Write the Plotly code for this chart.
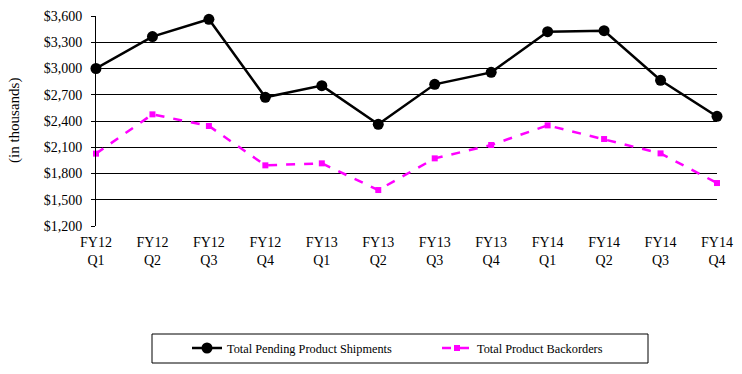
import plotly.graph_objects as go

quarters = ["FY12<br>Q1", "FY12<br>Q2", "FY12<br>Q3", "FY12<br>Q4",
            "FY13<br>Q1", "FY13<br>Q2", "FY13<br>Q3", "FY13<br>Q4",
            "FY14<br>Q1", "FY14<br>Q2", "FY14<br>Q3", "FY14<br>Q4"]
pending_shipments = [3000, 3365, 3562, 2671, 2804, 2362, 2819, 2956, 3421, 3432, 2865, 2453]
backorders = [2027, 2476, 2343, 1893, 1916, 1611, 1973, 2126, 2350, 2194, 2030, 1691]
y_ticks = [1200, 1500, 1800, 2100, 2400, 2700, 3000, 3300, 3600]
y_tick_labels = ["$1,200", "$1,500", "$1,800", "$2,100", "$2,400",
                 "$2,700", "$3,000", "$3,300", "$3,600"]

FONT = "Liberation Serif, Times New Roman, serif"
xs = list(range(len(quarters)))
PW, PH, L, T = 621, 210, 96, 16

fig = go.Figure()
fig.add_trace(go.Scatter(
    x=xs, y=pending_shipments, name="Total Pending Product Shipments",
    mode="lines+markers", line=dict(color="black", width=2.5),
    marker=dict(symbol="circle", size=11, color="black"), cliponaxis=False))
fig.add_trace(go.Scatter(
    x=xs, y=backorders, name="Total Product Backorders",
    mode="lines+markers", line=dict(color="#FF00FF", width=2.5, dash="dash"),
    marker=dict(symbol="square", size=6, color="#FF00FF"), cliponaxis=False))

fig.update_layout(
    width=742, height=374,
    margin=dict(l=L, r=742 - L - PW, t=T, b=374 - T - PH, autoexpand=False),
    paper_bgcolor="white", plot_bgcolor="white",
    font=dict(family=FONT, size=13, color="black"),
    showlegend=True,
    legend=dict(orientation="h", xref="container", yref="container",
                x=437 / 742, xanchor="center", y=1 - 348 / 374, yanchor="middle",
                bgcolor="rgba(0,0,0,0)", borderwidth=0, font=dict(family=FONT, size=12.3),
                entrywidth=205, entrywidthmode="pixels"),
    shapes=[dict(type="rect", xref="paper", yref="paper",
                 x0=(152 - L) / PW, x1=(648 - L) / PW,
                 y0=(T + PH - 334) / PH, y1=(T + PH - 363) / PH,
                 line=dict(color="black", width=1), fillcolor="rgba(0,0,0,0)")],
    annotations=[dict(text="(in thousands)", xref="paper", yref="paper",
                      x=(14 - L) / PW, y=0.5, textangle=-90, showarrow=False,
                      xanchor="center", yanchor="middle",
                      font=dict(family=FONT, size=15, color="black"))],
)
fig.update_xaxes(
    range=[0, 11], tickmode="array", tickvals=xs, ticktext=quarters,
    showgrid=False, zeroline=False, showline=False, ticks="", automargin=False,
    ticklabelstandoff=6,
    tickfont=dict(family=FONT, size=14, color="black"))
fig.update_yaxes(
    range=[1200, 3600], tickmode="array", tickvals=y_ticks, ticktext=y_tick_labels,
    showgrid=True, gridcolor="black", gridwidth=1, zeroline=False, automargin=False,
    showline=True, linecolor="black", linewidth=1, ticks="outside", ticklen=4, tickcolor="black",
    ticklabelstandoff=6,
    tickfont=dict(family=FONT, size=14, color="black"))

fig.write_html("out.html", config={"displayModeBar": False},
               post_script="document.body.style.margin='0px';document.body.style.overflow='hidden';")
